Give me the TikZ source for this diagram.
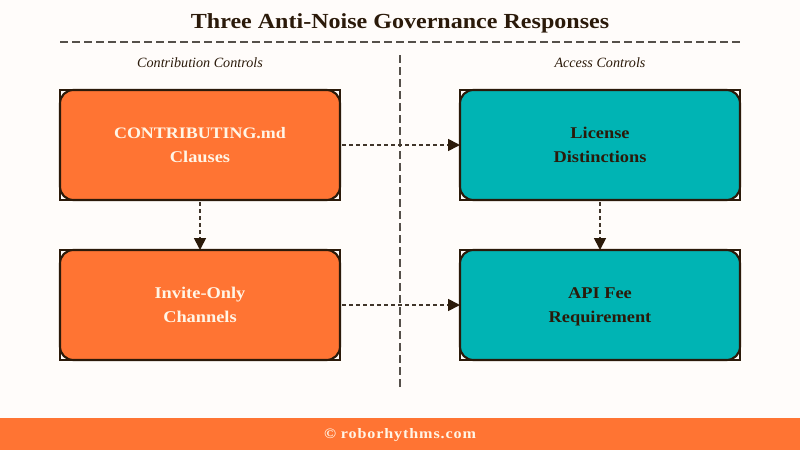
\documentclass[tikz,border=0pt]{standalone}
\usepackage{fontspec}
\setmainfont[FakeStretch=1.12]{Liberation Serif}
\newfontfamily\headfont[FakeStretch=1.0]{Liberation Serif}
\usetikzlibrary{arrows.meta}
\definecolor{bgc}{HTML}{FFFCFA}
\definecolor{ink}{HTML}{2B1A0A}
\definecolor{orangec}{HTML}{FF7433}
\definecolor{tealc}{HTML}{00B4B4}
\definecolor{creamc}{HTML}{FFF5E6}
\definecolor{dashc}{HTML}{55504A}
\newcommand{\firstline}{\rule{0pt}{\dimexpr\ht\strutbox+1.5pt\relax}\rule[-\dp\strutbox]{0pt}{\dp\strutbox}}
\tikzset{
  x=0.75pt,y=-0.75pt,
  outer/.style={draw=ink,line width=1.6pt,outer sep=0pt,fill=bgc,minimum width=210pt,minimum height=82.5pt,inner sep=0pt},
  card/.style={draw=ink,line width=1.6pt,outer sep=0pt,rounded corners=10pt,minimum width=210pt,minimum height=82.5pt,inner sep=0pt,align=center,font=\bfseries\fontsize{12.3pt}{18pt}\selectfont},
  warm/.style={card,fill=orangec,text=creamc},
  cool/.style={card,fill=tealc,text=ink},
  link/.style={draw=dashc!50!ink,line width=1.3pt,dash pattern=on 3pt off 2.25pt,shorten <=1.5pt,-{Triangle[length=9pt,width=9pt,fill=ink,color=ink]}},
  divider/.style={draw=dashc,line width=1.1pt,dash pattern=on 6pt off 3pt},
  heading/.style={font=\headfont\itshape\fontsize{10.6pt}{12pt}\selectfont,text=ink},
}
\begin{document}
\begin{tikzpicture}
\useasboundingbox (0,0) rectangle (800,450);
\fill[bgc] (0,0) rectangle (800,450);
\fill[orangec] (0,418) rectangle (800,450);
\node[text=ink,font=\bfseries\fontsize{16.1pt}{18pt}\selectfont] (title) at (400,23) {Three Anti-Noise Governance Responses};
\coordinate (ruleL) at (60,42); \coordinate (ruleR) at (740,42);
\draw[divider] (ruleL) -- (ruleR);
\coordinate (midT) at (400,55); \coordinate (midB) at (400,387);
\draw[divider] (midT) -- (midB);
\node[heading] (hl) at (200,62.5) {Contribution Controls};
\node[heading] (hr) at (600,62.5) {Access Controls};
\node[outer] (oa) at (200,145) {};
\node[outer] (ob) at (200,305) {};
\node[outer] (oc) at (600,145) {};
\node[outer] (od) at (600,305) {};
\node[warm] (a) at (200,145) {\firstline{\fontsize{12pt}{18pt}\selectfont CONTRIBUTING.md}\\Clauses\strut};
\node[warm] (b) at (200,305) {\firstline Invite-Only\\Channels\strut};
\node[cool] (c) at (600,145) {\firstline License\\Distinctions\strut};
\node[cool] (d) at (600,305) {\firstline API Fee\\Requirement\strut};
\draw[link] (oa) -- (ob);
\draw[link] (oc) -- (od);
\draw[link] (oa) -- (oc);
\draw[link] (ob) -- (od);
\node[text=creamc,font=\bfseries\fontsize{10.8pt}{12pt}\selectfont] (foot) at (400,435.5) {\addfontfeature{LetterSpace=6}© roborhythms.com};
\end{tikzpicture}
\end{document}
